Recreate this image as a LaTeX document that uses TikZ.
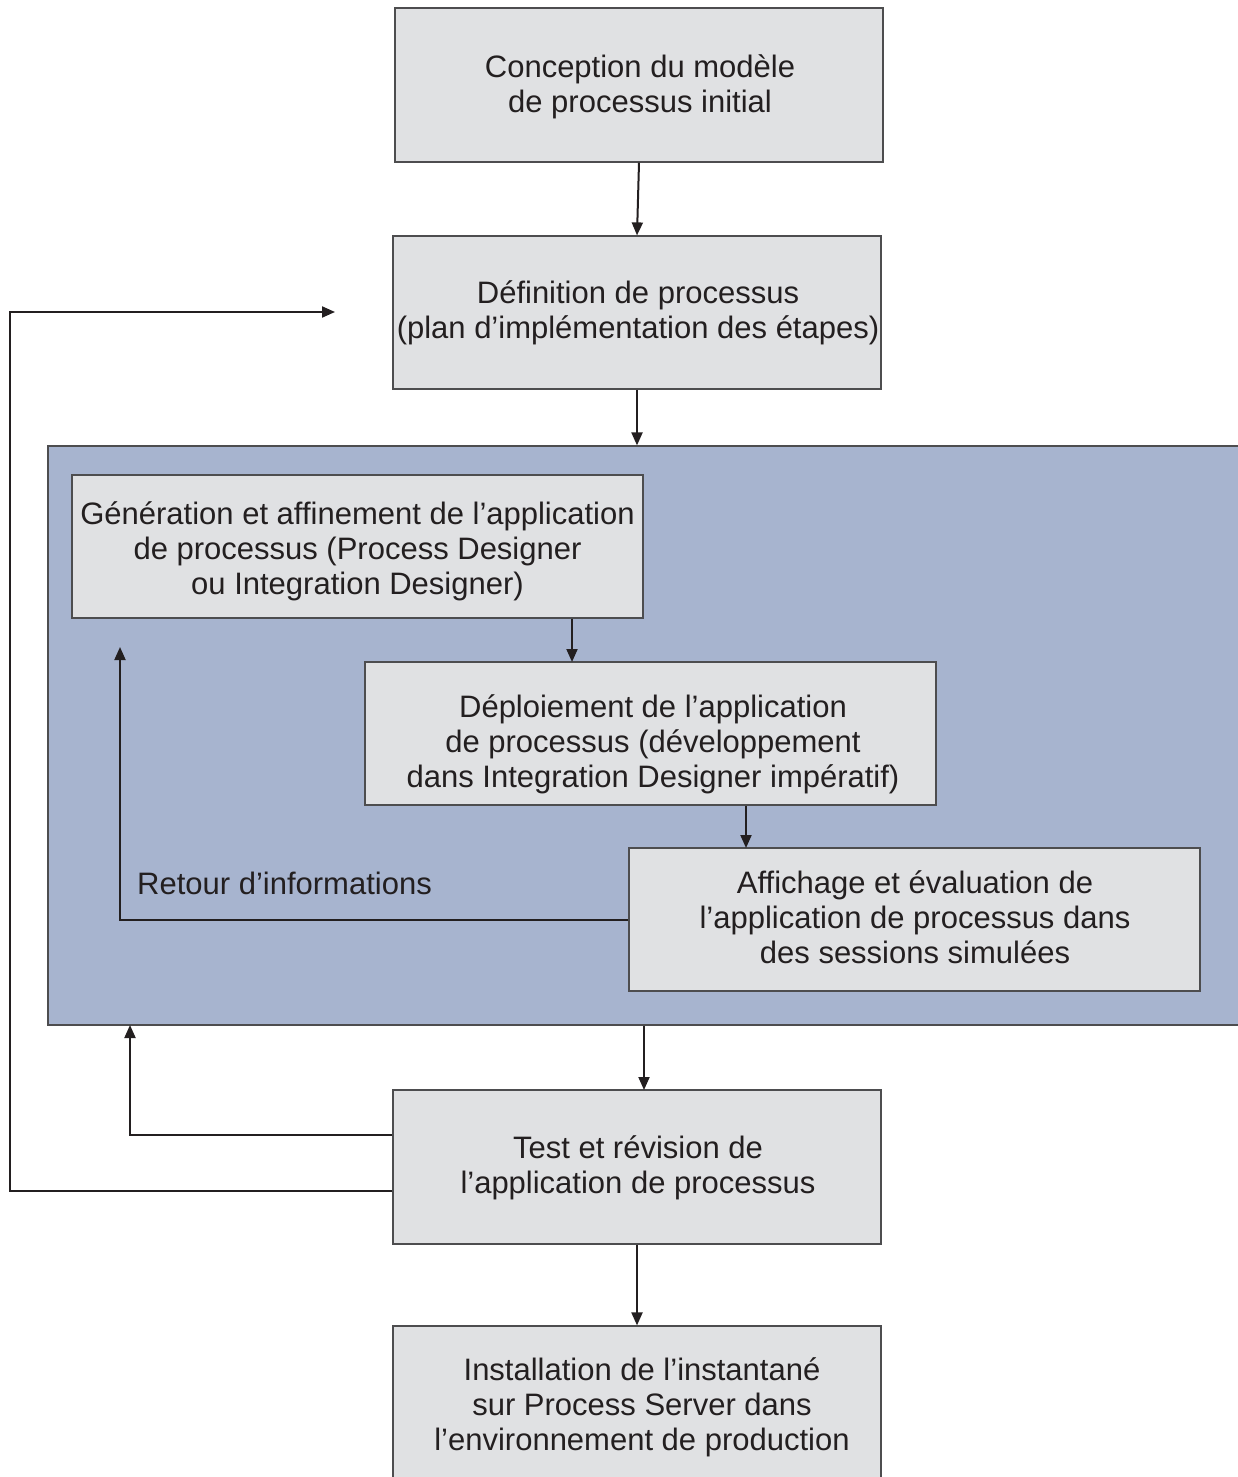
\documentclass[tikz,border=0pt]{standalone}
\usepackage{fontspec}
\setmainfont{Liberation Sans}
\usetikzlibrary{arrows.meta}
\definecolor{boxfill}{HTML}{E0E1E3}
\definecolor{boxline}{HTML}{4D4D4F}
\definecolor{panelfill}{HTML}{A7B4CF}
\definecolor{linkcol}{HTML}{231F20}
\begin{document}
\begin{tikzpicture}[x=1pt,y=-1pt,
  stepbox/.style={draw=boxline,line width=1.2pt,fill=boxfill,inner sep=0pt},
  steptext/.style={align=center,inner sep=0pt,font=\fontsize{31}{35}\selectfont,text=linkcol},
  link/.style={draw=linkcol,line width=2pt,-{Triangle[length=13pt,width=11pt]}}]
\useasboundingbox (0,0) rectangle (1238,1477);
\clip (0,0) rectangle (1238,1477);
\fill[white] (0,0) rectangle (1238,1477);

% outer boxes
\node[stepbox,minimum width=488pt,minimum height=154pt] (conc) at (639,85) {};
\node[steptext] (conc-t) at (640,87) {Conception du modèle\\de processus initial};
\node[stepbox,minimum width=488pt,minimum height=153pt] (defn) at (637,312.5) {};
\node[steptext] (defn-t) at (638,313) {Définition de processus\\(plan d’implémentation des étapes)};

% blue panel
\node[draw=boxline,line width=1.2pt,fill=panelfill,minimum width=1200pt,minimum height=579pt,inner sep=0pt] (panel) at (648,735.5) {};

% inner boxes
\node[stepbox,minimum width=571pt,minimum height=143pt] (gen) at (357.5,546.5) {};
\node[steptext] (gen-t) at (357.5,551.5)
  {Génération et affinement de l’application\\de processus (Process Designer\\ou Integration Designer)};
\node[stepbox,minimum width=571pt,minimum height=143pt] (depl) at (650.5,733.5) {};
\node[steptext] (depl-t) at (653,744.5)
  {Déploiement de l’application\\de processus (développement\\dans Integration Designer impératif)};
\node[stepbox,minimum width=571pt,minimum height=143pt] (aff) at (914.5,919.5) {};
\node[steptext] (aff-t) at (915,917.5)
  {Affichage et évaluation de\\l’application de processus dans\\des sessions simulées};
\node[steptext,anchor=west] (retour) at (137,883) {Retour d’informations};

% lower boxes
\node[stepbox,minimum width=488pt,minimum height=154pt] (test) at (637,1167) {};
\node[steptext] (test-t) at (638,1168) {Test et révision de\\l’application de processus};
\node[stepbox,minimum width=488pt,minimum height=156pt] (inst) at (637,1404) {};
\node[steptext] (inst-t) at (642,1407)
  {Installation de l’instantané\\sur Process Server dans\\l’environnement de production};

% end points of the loop-backs
\coordinate (fbtop) at (120,647);
\coordinate (ptop) at (130,1025);
\coordinate (deftarget) at (335,312);
\coordinate (leftrail) at (10,312);

% straight connectors
\draw[link] (conc.south) -- (defn.north);
\draw[link] (defn.south) -- (defn.south |- panel.north);
\draw[link] (gen.south -| 572,0) -- (572,662);
\draw[link] (depl.south -| 746,0) -- (746,848);
\draw[link] (panel.south -| 644,0) -- (644,1090);
\draw[link] (test.south) -- (inst.north);

% loop-back connectors
\draw[link] (aff.west) -- (aff.west -| fbtop) -- (fbtop);
\draw[link] (test.west |- 0,1135) -- (130,1135) -- (ptop);
\draw[link] (test.west |- 0,1191) -- (10,1191) -- (leftrail) -- (deftarget);
\end{tikzpicture}
\end{document}
